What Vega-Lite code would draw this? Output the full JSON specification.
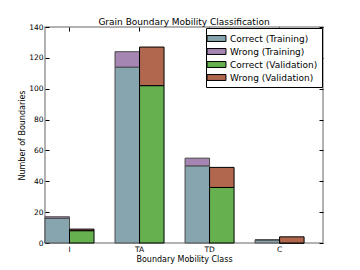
{
  "$schema": "https://vega.github.io/schema/vega-lite/v6.json",
  "autosize": "none",
  "width": 278,
  "height": 216,
  "padding": {"left": 45, "top": 27, "right": 37, "bottom": 27},
  "title": {"text": "Grain Boundary Mobility Classification", "fontSize": 9, "fontWeight": "normal", "font": "DejaVu Sans", "offset": -3.5, "color": "#000"},
  "config": {
    "view": {"stroke": "#999999", "strokeWidth": 1.5},
    "font": "DejaVu Sans",
    "axis": {"labelFont": "DejaVu Sans", "titleFont": "DejaVu Sans", "labelFontSize": 7.5, "titleFontSize": 8, "titleFontWeight": "normal", "labelColor": "#000", "titleColor": "#000", "domain": false, "grid": false, "tickColor": "#000", "tickSize": -4}
  },
  "data": {
    "values": [
      {"cls": "I", "set": "Training", "kind": "Correct", "series": "Correct (Training)", "count": 16},
      {"cls": "I", "set": "Training", "kind": "Wrong", "series": "Wrong (Training)", "count": 1},
      {"cls": "I", "set": "Validation", "kind": "Correct", "series": "Correct (Validation)", "count": 8},
      {"cls": "I", "set": "Validation", "kind": "Wrong", "series": "Wrong (Validation)", "count": 1},
      {"cls": "TA", "set": "Training", "kind": "Correct", "series": "Correct (Training)", "count": 114},
      {"cls": "TA", "set": "Training", "kind": "Wrong", "series": "Wrong (Training)", "count": 10},
      {"cls": "TA", "set": "Validation", "kind": "Correct", "series": "Correct (Validation)", "count": 102},
      {"cls": "TA", "set": "Validation", "kind": "Wrong", "series": "Wrong (Validation)", "count": 25},
      {"cls": "TD", "set": "Training", "kind": "Correct", "series": "Correct (Training)", "count": 50},
      {"cls": "TD", "set": "Training", "kind": "Wrong", "series": "Wrong (Training)", "count": 5},
      {"cls": "TD", "set": "Validation", "kind": "Correct", "series": "Correct (Validation)", "count": 36},
      {"cls": "TD", "set": "Validation", "kind": "Wrong", "series": "Wrong (Validation)", "count": 13},
      {"cls": "C", "set": "Training", "kind": "Correct", "series": "Correct (Training)", "count": 2},
      {"cls": "C", "set": "Training", "kind": "Wrong", "series": "Wrong (Training)", "count": 0},
      {"cls": "C", "set": "Validation", "kind": "Correct", "series": "Correct (Validation)", "count": 0},
      {"cls": "C", "set": "Validation", "kind": "Wrong", "series": "Wrong (Validation)", "count": 4}
    ]
  },
  "encoding": {
    "xOffset": {"field": "set", "type": "nominal", "sort": ["Training", "Validation"], "scale": {"paddingInner": 0, "paddingOuter": 0}},
    "order": {"field": "kind", "sort": "ascending"}
  },
  "layer": [
    {
      "mark": {"type": "bar", "strokeWidth": 1},
      "encoding": {
        "x": {
          "field": "cls", "type": "nominal", "sort": ["I", "TA", "TD", "C"],
          "scale": {"paddingInner": 0.3, "paddingOuter": 0.135, "align": 0},
          "axis": {"title": "Boundary Mobility Class", "labelAngle": 0, "labelPadding": 6, "titlePadding": 3}
        },
        "y": {
          "field": "count", "type": "quantitative", "stack": "zero",
          "scale": {"domain": [0, 140], "nice": false},
          "axis": {"title": "Number of Boundaries", "values": [0, 20, 40, 60, 80, 100, 120, 140], "labelPadding": 6, "titlePadding": 2}
        },
        "color": {
          "field": "series", "type": "nominal",
          "scale": {"domain": ["Correct (Training)", "Wrong (Training)", "Correct (Validation)", "Wrong (Validation)"], "range": ["#86a5ae", "#a585b2", "#66b04f", "#b0674e"]},
          "legend": {
            "title": null, "orient": "top-right", "offset": 1,
            "labelFont": "DejaVu Sans", "labelFontSize": 9, "labelColor": "#000",
            "symbolType": "M-1.6,-0.5H1.6V0.5H-1.6Z", "symbolSize": 140, "symbolStrokeColor": "#000", "symbolStrokeWidth": 1, "symbolOpacity": 1,
            "strokeColor": "#000", "fillColor": "#fff", "padding": 4, "rowPadding": 1, "cornerRadius": 0, "labelOffset": 7
          }
        },
        "stroke": {
          "field": "set", "type": "nominal",
          "scale": {"domain": ["Training", "Validation"], "range": ["#4a4a4a", "#000000"]},
          "legend": null
        }
      }
    },
    {
      "mark": {"type": "bar", "opacity": 0},
      "encoding": {
        "x": {
          "field": "cls", "type": "nominal", "sort": ["I", "TA", "TD", "C"],
          "axis": {"orient": "top", "title": null, "labels": false}
        },
        "y": {
          "field": "count", "type": "quantitative", "stack": "zero",
          "axis": {"orient": "right", "title": null, "labels": false, "values": [0, 20, 40, 60, 80, 100, 120, 140]}
        }
      }
    }
  ],
  "resolve": {"axis": {"x": "independent", "y": "independent"}}
}
